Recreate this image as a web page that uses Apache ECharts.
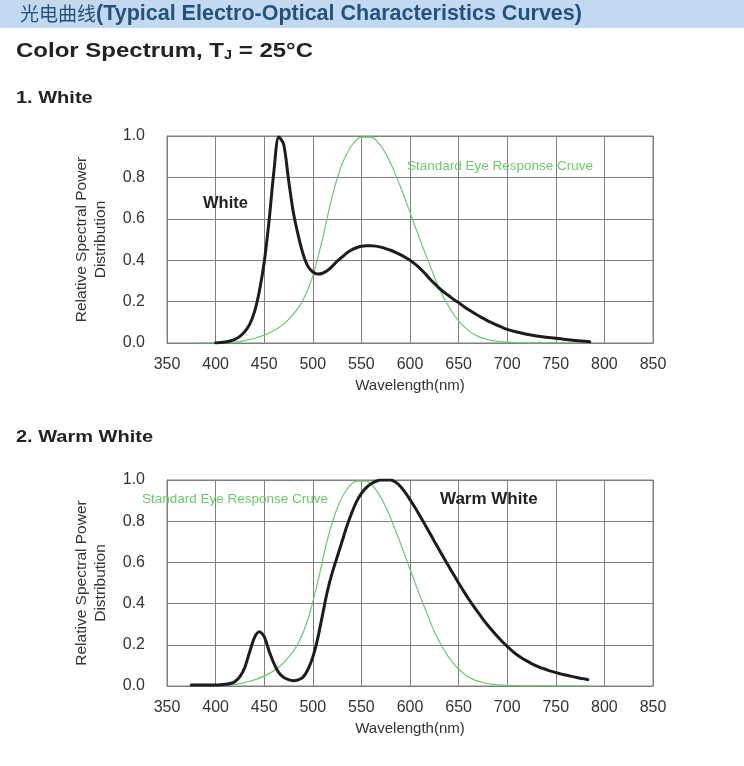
<!DOCTYPE html>
<html><head><meta charset="utf-8">
<script src="https://cdn.jsdelivr.net/npm/echarts@6/dist/echarts.min.js"></script>
<style>html,body{margin:0;padding:0;background:#fff}#c{width:744px;height:766px}</style>
</head><body><div id="c"></div>
<script>
// ---- data ----
const xTicks = [350, 400, 450, 500, 550, 600, 650, 700, 750, 800, 850];
const yTicks = [0.0, 0.2, 0.4, 0.6, 0.8, 1.0];

// Chart 1: White
const whiteWl  = [400,405,410,415,420,425,430,435,440,445,450,455,460,465,470,475,480,485,490,495,500,505,510,515,520,525,530,535,540,545,550,555,560,565,570,575,580,585,590,595,600,605,610,615,620,625,630,635,640,645,650,655,660,665,670,675,680,685,690,695,700,710,720,730,740,750,760,770,780,785];
const whiteVal = [0.000,0.002,0.005,0.010,0.018,0.032,0.055,0.09,0.15,0.25,0.39,0.59,0.83,0.995,0.96,0.79,0.63,0.52,0.43,0.37,0.343,0.333,0.337,0.35,0.37,0.395,0.415,0.435,0.45,0.46,0.467,0.47,0.47,0.468,0.463,0.456,0.448,0.438,0.427,0.414,0.40,0.382,0.362,0.338,0.312,0.288,0.265,0.245,0.228,0.21,0.195,0.178,0.162,0.147,0.133,0.12,0.107,0.096,0.085,0.075,0.066,0.053,0.042,0.034,0.028,0.023,0.017,0.012,0.008,0.006];
const eye1Wl  = [380,390,400,410,420,430,440,450,460,470,480,490,500,510,520,530,540,550,560,570,580,590,600,610,620,630,640,650,660,670,680,690,700,710,720,730,740,750,760,770,785];
const eye1Val = [0.0,0.0001,0.0004,0.0012,0.004,0.0116,0.023,0.038,0.06,0.091,0.139,0.208,0.323,0.503,0.71,0.862,0.954,0.995,0.995,0.952,0.87,0.757,0.631,0.503,0.381,0.265,0.175,0.107,0.061,0.032,0.017,0.0082,0.0041,0.0021,0.001,0.0005,0.0002,0.0001,0.0,0.0,0.0];

// Chart 2: Warm White
const warmWl  = [375,380,385,390,395,400,405,410,415,420,425,430,435,440,445,450,455,460,465,470,475,480,485,490,495,500,505,510,515,520,525,530,535,540,545,550,555,560,565,570,575,580,585,590,595,600,605,610,615,620,625,630,635,640,645,650,655,660,665,670,675,680,685,690,695,700,705,710,715,720,725,730,735,740,745,750,755,760,765,770,775,780,783];
const warmVal = [0.005,0.005,0.005,0.005,0.005,0.005,0.006,0.008,0.012,0.022,0.045,0.09,0.165,0.235,0.263,0.24,0.17,0.11,0.065,0.042,0.031,0.026,0.03,0.043,0.08,0.14,0.23,0.345,0.46,0.55,0.625,0.70,0.775,0.84,0.895,0.935,0.963,0.982,0.994,1.0,1.0,1.0,0.99,0.97,0.94,0.905,0.868,0.828,0.787,0.745,0.703,0.661,0.62,0.58,0.54,0.50,0.462,0.425,0.39,0.357,0.325,0.295,0.267,0.24,0.215,0.192,0.171,0.152,0.136,0.122,0.109,0.098,0.088,0.08,0.072,0.065,0.059,0.053,0.048,0.043,0.038,0.034,0.031];
const eye2Wl  = [415,425,435,445,455,465,475,485,495,505,515,525,535,545,555,565,575,585,595,605,615,625,635,645,655,665,675,685,695,705,715,725,735,745,755,765,775,785];
const eye2Val = [0.004,0.0116,0.023,0.038,0.06,0.091,0.139,0.208,0.323,0.503,0.71,0.862,0.954,0.995,0.995,0.952,0.87,0.757,0.631,0.503,0.381,0.265,0.175,0.107,0.061,0.032,0.017,0.0082,0.0041,0.002,0.001,0.0005,0.0002,0.0001,0.0,0.0,0.0,0.0];

const pairs = (xs, ys) => xs.map((x, i) => [x, ys[i]]);

const FONT = '"Liberation Sans", Arial, sans-serif';
const GRID_COLOR = '#7f7f7f';
const BLACK = '#1c1c1c';
const GREEN = '#66cc66';

function xAxisCfg(gi) {
  return {
    gridIndex: gi, type: 'value', min: 350, max: 850, interval: 50,
    name: 'Wavelength(nm)', nameLocation: 'middle', nameGap: 35,
    nameTextStyle: {fontFamily: FONT, fontSize: 15, color: '#333'},
    axisLine: {show: true, lineStyle: {color: GRID_COLOR, width: 1}},
    axisTick: {show: false},
    axisLabel: {fontFamily: FONT, fontSize: 16, color: '#333', margin: 14,
      formatter: v => xTicks.includes(v) ? String(v) : ''},
    splitLine: {show: true, lineStyle: {color: GRID_COLOR, width: 1}}
  };
}
function yAxisCfg(gi) {
  return {
    gridIndex: gi, type: 'value', min: 0, max: 1, interval: 0.2,
    name: 'Relative Spectral Power\nDistribution', nameLocation: 'middle', nameGap: 57,
    nameTextStyle: {fontFamily: FONT, fontSize: 15.5, color: '#333', lineHeight: 19, align: 'center'},
    axisLine: {show: true, lineStyle: {color: GRID_COLOR, width: 1}},
    axisTick: {show: false},
    axisLabel: {fontFamily: FONT, fontSize: 16, color: '#333', margin: 22,
      formatter: v => yTicks.some(t => Math.abs(t - v) < 1e-9) ? v.toFixed(1) : ''},
    splitLine: {show: true, lineStyle: {color: GRID_COLOR, width: 1}}
  };
}
function lineSeries(gi, data, color, width) {
  return {
    type: 'line', xAxisIndex: gi, yAxisIndex: gi, data: data,
    smooth: 0.3, showSymbol: false, symbol: 'none',
    lineStyle: {color: color, width: width, cap: 'round', join: 'round'}, z: width > 2 ? 3 : 2,
    silent: true, animation: false
  };
}

const chart = echarts.init(document.getElementById('c'), null, {renderer: 'canvas'});
chart.setOption({
  backgroundColor: '#ffffff',
  animation: false,
  grid: [
    {left: 167, top: 136, width: 486, height: 207, show: true, borderColor: GRID_COLOR, borderWidth: 1},
    {left: 167, top: 480, width: 486, height: 206, show: true, borderColor: GRID_COLOR, borderWidth: 1}
  ],
  xAxis: [xAxisCfg(0), xAxisCfg(1)],
  yAxis: [yAxisCfg(0), yAxisCfg(1)],
  series: [
    lineSeries(0, pairs(eye1Wl, eye1Val), GREEN, 1.2),
    lineSeries(0, pairs(whiteWl, whiteVal), BLACK, 3),
    lineSeries(1, pairs(eye2Wl, eye2Val), GREEN, 1.2),
    lineSeries(1, pairs(warmWl, warmVal), BLACK, 3)
  ],
  graphic: [
    {type: 'rect', shape: {x: 0, y: 0, width: 744, height: 28}, style: {fill: '#c3d9f0'}, z: -1},
    {type: 'text', x: 20, y: 3, style: {
      text: '{cn|光电曲线}{en|(Typical Electro-Optical Characteristics Curves)}',
      rich: {
        cn: {fontFamily: '"Noto Sans CJK SC", sans-serif', fontSize: 19, fill: '#24527f'},
        en: {fontFamily: '"Liberation Sans Narrow", "Liberation Sans", sans-serif', fontSize: 21.5, fontWeight: 'bold', fill: '#24527f'}
      }}},
    {type: 'text', x: 16, y: 41, scaleX: 1.2, style: {
      text: '{a|Color Spectrum, T}{s|J}{a| = 25°C}',
      rich: {
        a: {fontFamily: FONT, fontSize: 20, fontWeight: 'bold', fill: '#222'},
        s: {fontFamily: FONT, fontSize: 12, fontWeight: 'bold', fill: '#222', verticalAlign: 'bottom', padding: [9, 0, 0, 0]}
      }}},
    {type: 'text', x: 16, y: 91, scaleX: 1.25, style: {text: '1. White', font: 'bold 16px "Liberation Sans", Arial', fill: '#222'}},
    {type: 'text', x: 16, y: 430, scaleX: 1.25, style: {text: '2. Warm White', font: 'bold 16px "Liberation Sans", Arial', fill: '#222'}},
    {type: 'text', x: 203, y: 195, style: {text: 'White', font: 'bold 16.5px "Liberation Sans", Arial', fill: '#222'}, z: 10},
    {type: 'text', x: 407, y: 159, style: {text: 'Standard Eye Response Cruve', font: '13.5px "Liberation Sans", Arial', fill: '#66cc66'}, z: 10},
    {type: 'text', x: 142, y: 492, style: {text: 'Standard Eye Response Cruve', font: '13.5px "Liberation Sans", Arial', fill: '#66cc66'}, z: 10},
    {type: 'text', x: 440, y: 491, style: {text: 'Warm White', font: 'bold 17px "Liberation Sans", Arial', fill: '#222'}, z: 10}
  ]
});
</script></body></html>
